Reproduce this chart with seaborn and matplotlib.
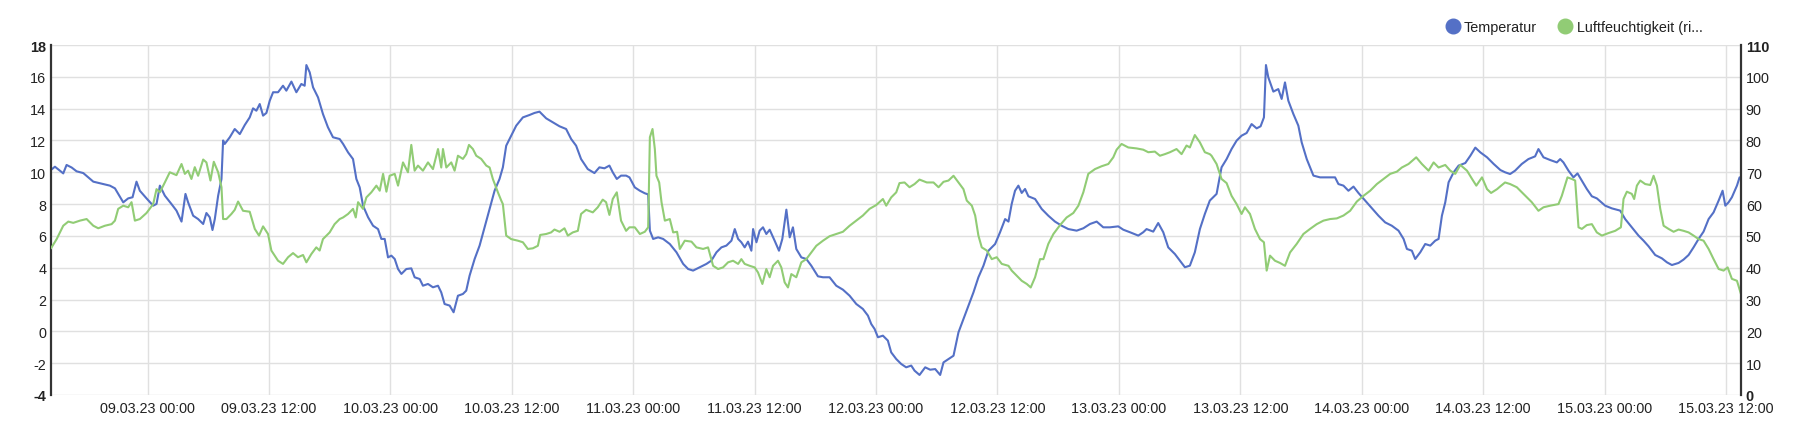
import matplotlib
matplotlib.use("Agg")
import matplotlib.pyplot as plt
from matplotlib.lines import Line2D
import pandas as pd
import seaborn as sns

start = pd.Timestamp("2023-03-09 00:00")

temp_hours = [
    -9.54, -9.15, -8.33, -8.0, -7.5, -7.01, -6.35, -5.36, -4.38, -3.72,
    -3.22, -2.4, -1.91, -1.48, -1.09, -0.76, -0.1, 0.56, 0.89, 1.22,
    1.71, 2.37, 2.86, 3.36, 3.75, 4.01, 4.51, 5.0, 5.5, 5.82,
    6.15, 6.42, 6.65, 6.98, 7.31, 7.47, 7.63, 8.13, 8.62, 9.12,
    9.61, 10.1, 10.43, 10.76, 11.09, 11.42, 11.75, 12.08, 12.41, 12.9,
    13.39, 13.72, 14.22, 14.71, 15.2, 15.53, 15.7, 16.03, 16.36, 16.85,
    17.34, 17.83, 18.33, 18.99,
    19.33, 19.82, 20.31, 20.64, 20.97, 21.3, 21.8, 22.29, 22.78, 23.11,
    23.44, 23.77, 24.1, 24.43, 24.76, 25.09, 25.58, 26.07, 26.4, 26.9,
    27.22, 27.72, 28.21, 28.71, 29.03, 29.36, 29.86, 30.25, 30.68, 31.17,
    31.5, 31.83, 32.33, 32.82, 33.31, 33.81, 34.3, 34.79, 35.12, 35.45,
    35.94, 36.44, 37.1, 37.75, 38.25, 38.74, 39.4, 40.06, 40.72, 41.37,
    41.87, 42.36, 42.85, 43.51, 44.17, 44.66, 45.16, 45.65, 45.98, 46.38,
    46.8, 47.3, 47.63,
    48.16, 48.66, 49.15, 49.48, 49.65, 49.97, 50.47, 50.96, 51.62, 52.28,
    52.94, 53.43, 53.92, 54.58, 55.24, 55.73, 56.23, 56.72, 57.21, 57.71,
    58.04, 58.37, 58.69, 59.02, 59.35, 59.68, 59.85, 60.18, 60.5, 60.83,
    61.16, 61.49, 61.98, 62.41, 62.74, 63.14, 63.47, 63.79, 64.12, 64.62,
    65.11, 65.6, 66.26, 66.76, 67.41, 68.07, 68.73, 69.39, 70.05, 70.7,
    71.2, 71.53, 71.86, 72.19, 72.68, 73.17, 73.5, 74.0, 74.49, 74.98,
    75.48, 75.81, 76.3,
    76.86, 77.35, 77.85, 78.34, 78.67, 79.16, 79.66, 80.15, 80.64, 81.14,
    81.63, 82.12, 82.62, 83.11, 83.77, 84.26, 84.76, 85.09, 85.41, 85.74,
    86.07, 86.4, 86.73, 87.06, 87.72, 88.38, 89.03, 89.69, 90.35, 91.01,
    91.83, 92.49, 93.15, 93.81, 94.46, 95.12, 95.94, 96.44, 97.1, 97.92,
    98.41, 98.74, 99.4, 99.89, 100.39, 100.88, 101.54, 102.03, 102.53, 103.02,
    103.51, 104.01, 104.5, 104.99,
    105.66, 106.15, 106.65, 107.14, 107.64, 108.13, 108.63, 109.12, 109.62, 110.01,
    110.34, 110.54, 110.77, 111.27, 111.76, 112.09, 112.42, 112.75, 113.25, 113.74,
    114.07, 114.57, 115.23, 115.89, 116.71, 117.37, 117.7, 118.2, 118.69, 119.19,
    119.68, 120.34, 121.0, 121.66, 122.32, 122.98, 123.64, 124.14, 124.47, 124.96,
    125.29, 125.79, 126.28, 126.78, 127.27, 127.6, 127.93, 128.26, 128.59, 129.09,
    129.58, 130.24, 130.74, 131.23, 131.73, 132.39, 133.05, 133.71,
    134.17, 134.67, 135.16, 135.82, 136.48, 137.14, 137.47, 137.97, 138.63, 139.29,
    139.62, 139.94, 140.44, 140.93, 141.33, 141.76, 142.25, 142.75, 143.24, 144.07,
    144.73, 145.55, 146.04, 146.7, 147.36, 147.86, 148.35, 149.01, 149.67, 150.17,
    150.66, 151.32, 151.81, 152.31, 152.8, 153.3, 153.79, 154.29, 154.78, 155.28,
    155.67, 155.94, 156.26, 156.59, 157.09, 157.35, 157.49,
]
temp_values = [
    10.15, 10.35, 9.93, 10.46, 10.3, 10.06, 9.95, 9.41, 9.26, 9.16,
    8.99, 8.11, 8.36, 8.43, 9.41, 8.84, 8.36, 7.9, 8.01, 9.16,
    8.53, 8.0, 7.59, 6.9, 8.64, 8.11, 7.27, 7.06, 6.75, 7.44,
    7.17, 6.37, 7.06, 8.53, 9.58, 12.0, 11.78, 12.2, 12.72, 12.4,
    12.97, 13.45, 14.02, 13.87, 14.29, 13.56, 13.73, 14.5, 15.03, 15.03,
    15.44, 15.13, 15.7, 15.03, 15.55, 15.44, 16.74, 16.28, 15.34, 14.71,
    13.66, 12.83, 12.2, 12.09,
    11.78, 11.25, 10.83, 9.58, 9.05, 7.9, 7.17, 6.64, 6.43, 5.81,
    5.81, 4.65, 4.76, 4.55, 3.92, 3.61, 3.92, 3.96, 3.4, 3.29,
    2.87, 2.98, 2.77, 2.87, 2.45, 1.72, 1.62, 1.2, 2.24, 2.35,
    2.56, 3.5, 4.55, 5.39, 6.54, 7.69, 8.84, 9.58, 10.31, 11.67,
    12.3, 12.93, 13.45, 13.6, 13.73, 13.81, 13.39, 13.14, 12.89, 12.72,
    12.09, 11.67, 10.83, 10.2, 9.95, 10.31, 10.25, 10.42, 10.0, 9.58,
    9.79, 9.79, 9.68,
    9.05, 8.84, 8.68, 8.61, 6.33, 5.81, 5.91, 5.81, 5.49, 4.97,
    4.24, 3.92, 3.82, 4.03, 4.24, 4.45, 4.97, 5.28, 5.39, 5.7,
    6.43, 5.81, 5.6, 5.28, 5.64, 5.07, 6.43, 5.6, 6.33, 6.54,
    6.12, 6.39, 5.7, 5.07, 5.81, 7.65, 5.91, 6.54, 5.18, 4.65,
    4.55, 4.13, 3.46, 3.4, 3.4, 2.87, 2.62, 2.24, 1.72, 1.41,
    0.99, 0.46, 0.15, -0.37, -0.27, -0.58, -1.32, -1.74, -2.05, -2.26,
    -2.15, -2.47, -2.74,
    -2.26, -2.41, -2.37, -2.74, -1.95, -1.74, -1.53, -0.06, 0.78, 1.62,
    2.45, 3.4, 4.13, 5.07, 5.49, 6.23, 7.06, 6.9, 8.01, 8.84,
    9.16, 8.7, 8.95, 8.49, 8.32, 7.69, 7.27, 6.9, 6.64, 6.43,
    6.33, 6.48, 6.75, 6.9, 6.54, 6.54, 6.6, 6.39, 6.23, 6.02,
    6.23, 6.43, 6.27, 6.81, 6.23, 5.28, 4.86, 4.45, 4.03, 4.13,
    4.97, 6.43, 7.38, 8.22,
    8.64, 10.31, 10.83, 11.46, 11.99, 12.3, 12.47, 13.03, 12.76, 12.89,
    13.45, 16.74, 15.97, 15.07, 15.23, 14.61, 15.65, 14.5, 13.66, 12.93,
    11.88, 10.83, 9.79, 9.68, 9.68, 9.68, 9.26, 9.16, 8.84, 9.1,
    8.7, 8.22, 7.73, 7.27, 6.85, 6.64, 6.33, 5.81, 5.18, 5.07,
    4.55, 4.97, 5.49, 5.39, 5.7, 5.81, 7.27, 8.11, 9.37, 10.0,
    10.42, 10.58, 11.04, 11.55, 11.25, 10.94, 10.52, 10.14,
    10.0, 9.89, 10.1, 10.52, 10.83, 11.0, 11.46, 10.94, 10.77, 10.62,
    10.83, 10.62, 10.1, 9.68, 9.93, 9.47, 8.95, 8.49, 8.36, 7.9,
    7.73, 7.59, 7.06, 6.54, 6.02, 5.7, 5.35, 4.8, 4.59, 4.34,
    4.17, 4.3, 4.51, 4.8, 5.28, 5.81, 6.27, 7.06, 7.48, 8.22,
    8.84, 7.9, 8.11, 8.43, 9.16, 9.68, 9.6,
]

hum_hours = [
    -9.54, -8.98, -8.33, -7.83, -7.34, -6.68, -6.02, -5.36, -4.87, -4.21,
    -3.55, -3.22, -2.9, -2.4, -1.91, -1.58, -1.25, -0.76, -0.1, 0.56,
    0.89, 1.22, 1.71, 2.2, 2.86, 3.36, 3.69, 4.01, 4.34, 4.67,
    5.0, 5.5, 5.82, 6.22, 6.55, 6.98, 7.31, 7.47, 7.8, 8.29,
    8.62, 8.95, 9.44, 10.1, 10.6, 11.02, 11.42, 11.91, 12.24, 12.9,
    13.39, 13.89, 14.38, 14.87, 15.37, 15.7, 16.19, 16.68, 17.01, 17.34,
    18.0, 18.49, 18.99,
    19.33, 19.82, 20.31, 20.58, 20.81, 21.3, 21.63, 22.12, 22.62, 22.95,
    23.28, 23.61, 23.93, 24.43, 24.76, 25.25, 25.74, 26.07, 26.4, 26.73,
    27.22, 27.72, 28.21, 28.71, 29.03, 29.2, 29.53, 30.02, 30.35, 30.68,
    31.17, 31.5, 31.77, 32.16, 32.49, 32.98, 33.48, 33.81, 34.13, 34.63,
    34.96, 35.12, 35.45, 35.94, 36.6, 37.1, 37.59, 38.08, 38.58, 38.81,
    39.4, 39.89, 40.22, 40.72, 41.21, 41.54, 42.03, 42.53, 42.85, 43.35,
    44.01, 44.5, 44.99, 45.32, 45.65, 45.98, 46.38, 46.8, 47.3, 47.63,
    48.16, 48.66, 49.15, 49.48, 49.65, 49.91, 50.14, 50.3, 50.57, 50.8,
    51.13, 51.62, 51.95, 52.34, 52.61, 53.1, 53.76, 54.25, 54.91, 55.4,
    55.9, 56.39, 56.88, 57.38, 57.87, 58.37, 58.69, 59.02, 59.52, 60.01,
    60.34, 60.77, 61.16, 61.49, 61.82, 62.31, 62.64, 62.97, 63.3, 63.63,
    64.12, 64.62, 65.11, 65.6, 66.1, 66.76, 67.41, 68.07, 68.73, 69.39,
    70.05, 70.7, 71.36, 72.02, 72.68, 73.01, 73.5, 74.0, 74.32, 74.82,
    75.31, 75.81, 76.3,
    77.02, 77.68, 78.18, 78.67, 79.16, 79.66, 80.15, 80.64, 80.97, 81.47,
    81.8, 82.12, 82.45, 82.95, 83.44, 83.93, 84.43, 85.09, 85.41, 85.91,
    86.4, 86.9, 87.29, 87.72, 88.21, 88.54, 89.03, 89.53, 90.19, 90.84,
    91.5, 92.0, 92.49, 92.98, 93.64, 94.3, 94.96, 95.45, 95.78, 96.27,
    96.93, 97.75, 98.41, 98.91, 99.56, 100.06, 100.55, 101.05, 101.7, 102.2,
    102.69, 103.02, 103.51, 104.01, 104.5, 104.99,
    105.16, 105.66, 106.15, 106.65, 107.14, 107.64, 108.13, 108.46, 108.96, 109.45,
    109.95, 110.34, 110.61, 110.94, 111.43, 111.93, 112.42, 112.92, 113.58, 114.24,
    114.9, 115.56, 116.22, 116.88, 117.54, 118.2, 118.86, 119.52, 120.18, 120.84,
    121.5, 122.16, 122.82, 123.48, 123.97, 124.63, 125.39, 125.95, 126.61, 127.11,
    127.6, 128.26, 128.76, 129.25, 129.75, 130.41, 130.91, 131.33, 131.89, 132.39,
    132.79, 133.38, 133.71,
    134.17, 134.67, 135.33, 135.99, 136.81, 137.47, 137.97, 138.63, 139.45, 139.78,
    140.34, 140.77, 141.1, 141.43, 141.76, 142.25, 142.75, 143.24, 143.74, 144.4,
    145.06, 145.62, 145.88, 146.21, 146.7, 146.93, 147.2, 147.53, 148.02, 148.52,
    148.85, 149.18, 149.51, 149.84, 150.33, 150.83, 151.32, 151.81, 152.31, 152.8,
    153.3, 153.79, 154.29, 154.78, 155.28, 155.77, 156.17, 156.59, 157.09, 157.49,
]
hum_values = [
    46.1, 49.0, 53.2, 54.5, 54.1, 54.8, 55.3, 53.2, 52.4, 53.2,
    53.7, 54.8, 58.5, 59.5, 59.0, 60.6, 54.8, 55.3, 57.2, 60.0,
    64.7, 63.7, 66.8, 70.0, 69.1, 72.6, 69.5, 70.5, 67.9, 71.6,
    68.9, 74.0, 73.1, 67.4, 73.3, 70.0, 65.3, 55.3, 55.3, 56.9,
    58.2, 60.8, 57.9, 57.6, 52.2, 50.1, 53.0, 50.6, 45.4, 42.2,
    41.2, 43.3, 44.6, 43.3, 44.0, 41.7, 44.3, 46.4, 45.4, 49.0,
    51.1, 53.7, 55.3,
    55.8, 56.9, 58.5, 55.8, 60.6, 58.5, 62.1, 63.7, 65.8, 64.2,
    69.5, 63.9, 68.9, 69.5, 65.8, 73.1, 70.0, 78.6, 70.5, 72.1,
    70.5, 73.1, 71.0, 77.3, 71.5, 77.3, 71.5, 73.1, 70.5, 75.2,
    74.2, 75.7, 78.6, 77.3, 75.2, 74.2, 72.1, 71.5, 67.9, 63.7,
    61.1, 60.0, 50.1, 49.0, 48.5, 48.0, 45.9, 46.1, 46.9, 50.3,
    50.6, 51.1, 52.0, 51.3, 52.4, 50.1, 51.1, 51.6, 56.9, 58.2,
    57.4, 59.0, 61.4, 60.6, 56.6, 61.6, 63.7, 54.8, 51.6, 52.7,
    52.7, 50.6, 51.3, 52.7, 81.0, 83.6, 77.3, 68.9, 66.8, 60.6,
    54.8, 55.3, 51.1, 51.3, 45.9, 48.5, 48.2, 46.4, 45.9, 46.4,
    40.6, 39.6, 40.1, 41.7, 42.2, 41.2, 42.7, 41.2, 40.6, 40.1,
    38.5, 34.9, 39.6, 37.0, 40.6, 42.2, 40.1, 35.4, 33.8, 38.0,
    37.0, 41.7, 42.7, 44.8, 46.9, 48.5, 49.9, 50.6, 51.3, 53.2,
    54.8, 56.4, 58.5, 59.7, 61.6, 59.5, 62.1, 63.7, 66.6, 66.8,
    65.3, 66.3, 67.7,
    66.8, 66.8, 65.3, 67.0, 67.4, 68.9, 66.8, 64.7, 61.1, 59.5,
    56.4, 50.1, 46.4, 45.4, 42.7, 43.3, 41.2, 40.6, 39.1, 37.5,
    35.9, 34.9, 33.8, 37.0, 42.7, 42.7, 47.5, 50.6, 53.4, 55.8,
    57.2, 59.5, 63.7, 69.5, 71.0, 71.9, 72.6, 74.7, 77.1, 78.9,
    77.8, 77.5, 77.1, 76.3, 76.5, 75.2, 75.7, 76.3, 77.3, 75.7,
    78.4, 77.8, 81.7, 79.4, 76.3, 75.7,
    75.2, 72.6, 67.9, 66.6, 62.6, 60.0, 56.9, 59.0, 56.9, 52.2,
    49.0, 48.0, 39.1, 43.8, 42.2, 41.5, 40.6, 44.8, 47.5, 50.6,
    52.2, 53.7, 54.8, 55.3, 55.5, 56.4, 57.9, 60.8, 62.6, 64.2,
    66.3, 67.9, 69.5, 70.2, 71.5, 72.6, 74.7, 72.6, 70.5, 73.1,
    71.5, 72.3, 70.5, 69.5, 72.3, 70.5, 67.9, 65.8, 68.4, 64.7,
    63.5, 64.7, 65.6,
    66.8, 66.3, 65.3, 63.2, 60.6, 57.9, 59.0, 59.5, 60.0, 62.6,
    68.4, 67.9, 67.4, 52.7, 52.2, 53.4, 53.7, 51.1, 50.1, 50.9,
    51.6, 52.7, 61.6, 63.9, 63.2, 61.6, 65.8, 67.4, 66.3, 66.0,
    68.9, 65.8, 58.5, 53.2, 52.2, 51.3, 52.0, 51.6, 51.1, 50.1,
    49.0, 48.5, 45.9, 42.7, 39.6, 39.1, 40.1, 36.5, 35.9, 31.7,
]

x_ticks = pd.date_range("2023-03-09 00:00", "2023-03-15 12:00", freq="12h")
temp_ticks = list(range(-4, 19, 2))
hum_ticks = list(range(0, 111, 10))
series_names = ["Temperatur", "Luftfeuchtigkeit (ri..."]

BLUE = "#5470c6"
GREEN = "#91cc75"
GRID = "#e0e0e0"
AXIS = "#333333"
TEXT = "#222222"

sns.set_theme(style="white")
plt.rcParams["font.family"] = ["Liberation Sans", "DejaVu Sans"]

df_temp = pd.DataFrame({"time": start + pd.to_timedelta(temp_hours, unit="h"),
                        "value": temp_values})
df_hum = pd.DataFrame({"time": start + pd.to_timedelta(hum_hours, unit="h"),
                       "value": hum_values})

fig = plt.figure(figsize=(17.94, 4.27), dpi=100)
ax = fig.add_axes([51 / 1794, 1 - 396 / 427, (1741 - 51) / 1794, 350 / 427])
ax2 = ax.twinx()

sns.lineplot(data=df_temp, x="time", y="value", ax=ax, color=BLUE, lw=1.5,
             estimator=None, sort=False, legend=False)
sns.lineplot(data=df_hum, x="time", y="value", ax=ax2, color=GREEN, lw=1.5,
             estimator=None, sort=False, legend=False)

ax.set_xlim(df_temp["time"].iloc[0], df_temp["time"].iloc[-1])
ax.set_ylim(temp_ticks[0], temp_ticks[-1])
ax2.set_ylim(hum_ticks[0], hum_ticks[-1])

ax.set_xticks(x_ticks)
ax.set_xticklabels(x_ticks.strftime("%d.%m.%y %H:%M"))
ax.set_yticks(temp_ticks)
ax.set_yticklabels([str(v) for v in temp_ticks])
ax2.set_yticks(hum_ticks)
ax2.set_yticklabels([str(v) for v in hum_ticks])

for a in (ax, ax2):
    a.set_xlabel("")
    a.set_ylabel("")
    a.tick_params(length=0, labelsize=10.4, labelcolor=TEXT, pad=3.5)
    for side in ("top", "bottom", "left", "right"):
        a.spines[side].set_visible(False)
ax.tick_params(axis="x", pad=4.6)

ax.grid(True, color=GRID, lw=1)
ax2.grid(False)
ax.spines["left"].set_visible(True)
ax.spines["left"].set_color(AXIS)
ax.spines["left"].set_linewidth(1.6)
ax2.spines["right"].set_visible(True)
ax2.spines["right"].set_color(AXIS)
ax2.spines["right"].set_linewidth(1.6)

# Min/Max-Beschriftungen fett
for lbls in (ax.get_yticklabels(), ax2.get_yticklabels()):
    lbls[0].set_fontweight("bold")
    lbls[-1].set_fontweight("bold")

handles = [Line2D([], [], ls="", marker="o", markersize=10.5, color=BLUE),
           Line2D([], [], ls="", marker="o", markersize=10.5, color=GREEN)]
fig.legend(handles, series_names, loc="center left",
           bbox_to_anchor=(1445 / 1794, 1 - 28 / 427), ncol=2, frameon=False,
           fontsize=10.4, handlelength=1.05, handletextpad=0.25,
           columnspacing=1.45, borderpad=0, borderaxespad=0,
           labelcolor=TEXT)

fig.savefig("out.png", dpi=100)
